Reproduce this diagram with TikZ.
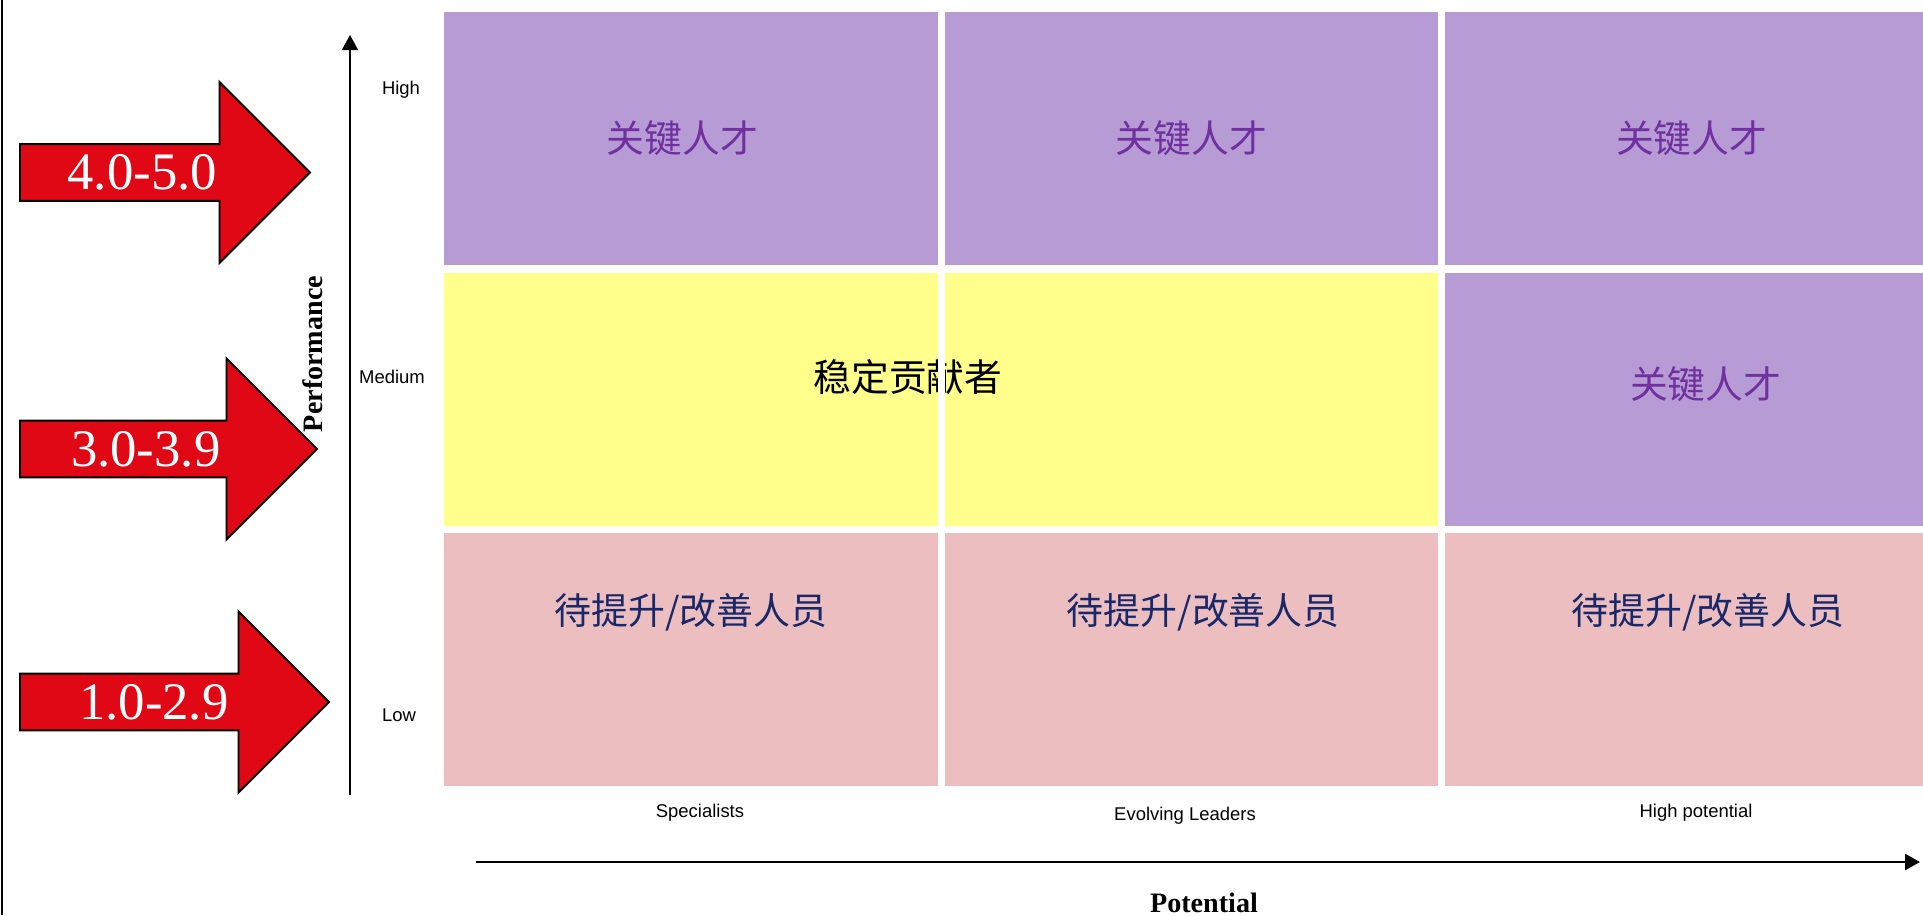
\documentclass[tikz,border=0pt]{standalone}
\usepackage{fontspec}
\setmainfont{Liberation Serif}
\setsansfont{Liberation Sans}
\newfontfamily\cjk{Noto Sans CJK SC}
\definecolor{kt}{RGB}{182,155,212}
\definecolor{sc}{RGB}{255,255,140}
\definecolor{ip}{RGB}{236,190,192}
\definecolor{score}{RGB}{224,8,20}
\definecolor{kt-text}{RGB}{112,48,160}
\definecolor{ip-text}{RGB}{25,40,105}
\usetikzlibrary{
  positioning,     % cells next to each other
  shapes.arrows,   % the red score arrows
  arrows.meta      % tips of the two axes
}
\tikzset{
  node distance=0.15cm and 0.14cm,
  every node/.style = {
    outer sep = 0pt,
    inner sep = 2pt
  },
  cell/.style = {
    rectangle,
    minimum width=9.87cm,
    minimum height=5.06cm
  },
  kt/.style = {cell, fill = kt, text = kt-text, font=\cjk\fontsize{21.5}{24}\selectfont},
  sc/.style = {cell, fill = sc},
  ip/.style = {cell, fill = ip},
  kttext/.style = {text = kt-text, font=\cjk\fontsize{21.5}{24}\selectfont},
  sctext/.style = {text = black, font=\cjk\fontsize{21.5}{24}\selectfont},
  iptext/.style = {text = ip-text, font=\cjk\fontsize{21}{24}\selectfont},
  scorearrow/.style = {
    single arrow,
    draw,
    line width=1.1pt,
    fill = score,
    text = white,
    font=\fontsize{30}{32}\selectfont,
    inner sep=1pt,
    single arrow head extend=0.9cm,
    minimum width=3.62cm,
    anchor=tail
  },
  ticklabel/.style = {font=\sffamily\fontsize{10.5}{12}\selectfont},
  axistitle/.style = {font=\bfseries\fontsize{16}{18}\selectfont},
  axis/.style = {line width=1.1pt, -{Triangle[width=0.32cm,length=0.3cm]}}
}

\begin{document}
\begin{tikzpicture}
  \useasboundingbox (0,0) rectangle (38.46,-18.3);

  %% frame line on the left
  \draw[line width=1.5pt] (0.04,0) -- (0.04,-18.3);

  %% grid
  \node[kt] (KT1) at (13.815,-2.77) {\hspace*{-0.34cm}关键人才};
  \node[kt] (KT2) [right=of KT1] {关键人才};
  \node[kt] (KT3) [right=of KT2] {关键人才};

  \node[sc] (SC1) [below=of KT1] {};
  \node[sc] (SC2) [below=of KT2] {};
  \node[kt] (KT4) [below=of KT3] {};

  \node[ip] (IP1) [below=of SC1] {};
  \node[ip] (IP2) [below=of SC2] {};
  \node[ip] (IP3) [below=of KT4] {};

  %% texts of the cells
  \node[kttext] (KT4text) at ([xshift=0.28cm,yshift=0.3cm]KT4.center) {关键人才};
  \node[sctext] (SCtext) at ([xshift=-0.59cm,yshift=0.44cm]SC1.east) {稳定贡献者};
  \fill[white] (SC1.north east) rectangle (SC2.south west);

  \node[iptext] (IP1text) at ([yshift=0.95cm]IP1.center) {待提升/改善人员};
  \node[iptext] (IP2text) at ([xshift=0.24cm,yshift=0.95cm]IP2.center) {待提升/改善人员};
  \node[iptext] (IP3text) at ([xshift=0.32cm,yshift=0.95cm]IP3.center) {待提升/改善人员};

  %% score arrows
  \node[scorearrow, minimum height=5.8cm]  (R45) at (0.4,-3.45)  {\hspace*{-0.34cm}4.0-5.0};
  \node[scorearrow, minimum height=5.94cm] (R34) at (0.4,-8.98)  {\hspace*{-0.34cm}3.0-3.9};
  \node[scorearrow, minimum height=6.18cm] (R12) at (0.4,-14.04) {\hspace*{-0.26cm}1.0-2.9};

  %% performance axis
  \coordinate (Ybottom) at (7.0,-15.9);
  \coordinate (Ytop)    at (7.0,-0.7);
  \draw[axis] (Ybottom) -- (Ytop);

  \node[ticklabel] (High)   at (8.02,-1.8)  {High};
  \node[ticklabel] (Medium) at (7.84,-7.54) {Medium};
  \node[ticklabel] (Low)    at (7.98,-14.3) {Low};
  \node[axistitle, rotate=90] (Perf) at (6.26,-7.08) {Performance};

  %% potential axis
  \coordinate (Xleft)  at (9.52,-17.24);
  \coordinate (Xright) at (38.4,-17.24);
  \draw[axis, line width=1.5pt] (Xleft) -- (Xright);

  \node[ticklabel] (Spec) at (14.0,-16.26)  {Specialists};
  \node[ticklabel] (Evol) at (23.7,-16.32)  {Evolving Leaders};
  \node[ticklabel] (HiPo) at (33.92,-16.26) {High potential};
  \node[axistitle, anchor=base] (Pot) at (24.08,-18.24) {Potential};

\end{tikzpicture}
\end{document}
